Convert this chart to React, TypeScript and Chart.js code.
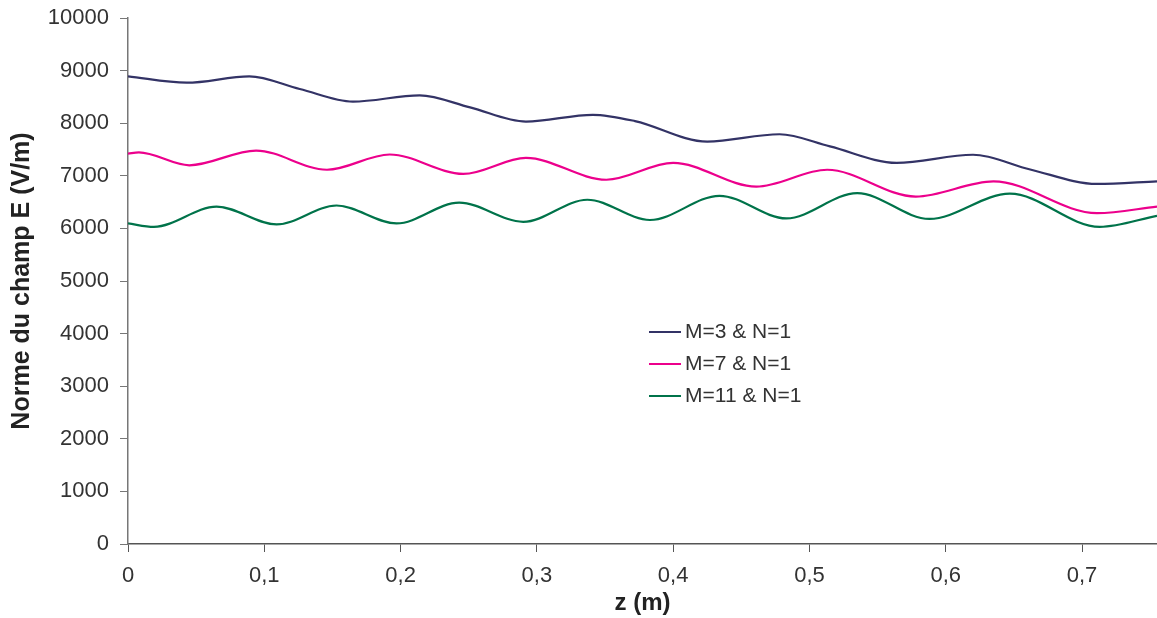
import React, { useEffect, useRef } from "react";
import { Chart, registerables } from "chart.js";

Chart.register(...registerables);

// Series: M=3 & N=1
const m3Z = [0, 0.043, 0.089, 0.126, 0.165, 0.214, 0.251, 0.292, 0.341, 0.372, 0.425, 0.478, 0.515, 0.564, 0.62, 0.662, 0.711, 0.755];
const m3E = [8890, 8770, 8890, 8650, 8410, 8530, 8300, 8030, 8160, 8040, 7650, 7790, 7560, 7245, 7400, 7120, 6845, 6895];
// Series: M=7 & N=1
const m7Z = [0, 0.008, 0.045, 0.094, 0.146, 0.192, 0.246, 0.292, 0.351, 0.4, 0.461, 0.513, 0.578, 0.635, 0.711, 0.755];
const m7E = [7420, 7445, 7200, 7480, 7115, 7405, 7035, 7340, 6925, 7245, 6795, 7115, 6605, 6895, 6290, 6415];
// Series: M=11 & N=1
const m11Z = [0, 0.019, 0.065, 0.109, 0.153, 0.197, 0.243, 0.29, 0.337, 0.383, 0.434, 0.483, 0.535, 0.588, 0.647, 0.713, 0.755];
const m11E = [6095, 6030, 6415, 6075, 6435, 6095, 6490, 6125, 6545, 6160, 6620, 6190, 6670, 6180, 6660, 6030, 6240];

const seriesLabels = ["M=3 & N=1", "M=7 & N=1", "M=11 & N=1"];
const seriesColors = ["#333366", "#EC008C", "#00734A"];

const xTitle = "z (m)";
const yTitle = "Norme du champ E (V/m)";
const xMax = 0.755;
const yMax = 10000;

const FONT = "'Liberation Sans', Arial, Helvetica, sans-serif";

const toPoints = (xs: number[], ys: number[]) => xs.map((x, i) => ({ x, y: ys[i] }));

const legendPlugin = {
  id: "insideLegend",
  afterDraw(chart: any) {
    const ctx = chart.ctx;
    ctx.save();
    const x0 = 649;
    const y0 = 332;
    const gap = 32;
    chart.data.datasets.forEach((ds: any, i: number) => {
      const y = y0 + i * gap;
      ctx.strokeStyle = ds.borderColor;
      ctx.lineWidth = 2;
      ctx.beginPath();
      ctx.moveTo(x0, y);
      ctx.lineTo(x0 + 32, y);
      ctx.stroke();
      ctx.fillStyle = "#333";
      ctx.font = `21px ${FONT}`;
      ctx.textBaseline = "middle";
      ctx.textAlign = "left";
      ctx.fillText(ds.label, x0 + 36, y);
    });
    ctx.restore();
  },
};

export default function App() {
  const ref = useRef<HTMLCanvasElement>(null);
  useEffect(() => {
    if (!ref.current) return;
    const chart = new Chart(ref.current, {
      type: "line",
      data: {
        datasets: [
          { label: seriesLabels[0], data: toPoints(m3Z, m3E), borderColor: seriesColors[0] },
          { label: seriesLabels[1], data: toPoints(m7Z, m7E), borderColor: seriesColors[1] },
          { label: seriesLabels[2], data: toPoints(m11Z, m11E), borderColor: seriesColors[2] },
        ].map((d) => ({
          ...d,
          borderWidth: 2.2,
          pointRadius: 0,
          fill: false,
          cubicInterpolationMode: "monotone" as const,
        })),
      },
      options: {
        responsive: false,
        animation: false,
        layout: { padding: { top: 18, right: 0, bottom: 0, left: 0 } },
        plugins: { legend: { display: false }, tooltip: { enabled: false } },
        scales: {
          x: {
            type: "linear",
            min: 0,
            max: xMax,
            border: { color: "#555", width: 1.5 },
            grid: { drawOnChartArea: false, drawTicks: true, tickLength: 8, color: "#555" },
            ticks: {
              stepSize: 0.1,
              includeBounds: false,
              padding: 11,
              color: "#333",
              font: { family: FONT, size: 22 },
              maxRotation: 0,
              autoSkip: false,
              callback: (v: any) => String(Math.round(Number(v) * 10) / 10).replace(".", ","),
            },
            title: {
              display: true,
              text: xTitle,
              color: "#222",
              font: { family: FONT, size: 24, weight: "bold" },
              padding: { top: 0, bottom: 0 },
            },
            afterFit: (scale: any) => {
              scale.height = 74;
              scale.paddingLeft = 0;
              scale.paddingRight = 0;
            },
          },
          y: {
            min: 0,
            max: yMax,
            border: { color: "#777", width: 1.5 },
            grid: { drawOnChartArea: false, drawTicks: true, tickLength: 8, color: "#777" },
            ticks: {
              stepSize: 1000,
              padding: 11,
              color: "#333",
              font: { family: FONT, size: 22 },
              callback: (v: any) => String(v),
            },
            title: {
              display: true,
              text: yTitle,
              color: "#222",
              font: { family: FONT, size: 25, weight: "bold" },
              padding: { top: 7, bottom: 0 },
            },
            afterFit: (scale: any) => {
              scale.width = 128;
              scale.paddingTop = 0;
              scale.paddingBottom = 0;
            },
          },
        },
      },
      plugins: [legendPlugin],
    });
    return () => chart.destroy();
  }, []);
  return (
    <div style={{ position: "absolute", left: 0, top: 0, width: 1157, height: 618, background: "#fff" }}>
      <canvas ref={ref} width={1157} height={618} style={{ display: "block" }} />
    </div>
  );
}
